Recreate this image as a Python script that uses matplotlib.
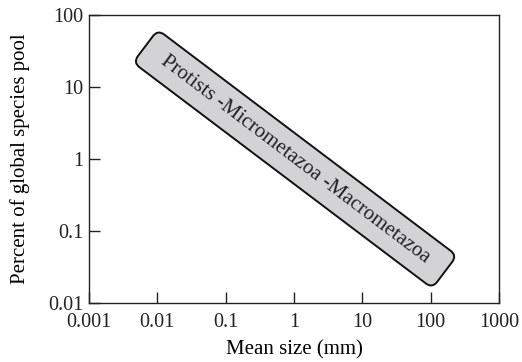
import matplotlib.pyplot as plt
from matplotlib.patches import FancyBboxPatch
from matplotlib.transforms import Affine2D, IdentityTransform
import numpy as np

# axis ticks
xTicks = [0.001, 0.01, 0.1, 1, 10, 100, 1000]
xLabels = ["0.001", "0.01", "0.1", "1", "10", "100", "1000"]
yTicks = [0.01, 0.1, 1, 10, 100]
yLabels = ["0.01", "0.1", "1", "10", "100"]

# band end points (mean size mm, percent of pool)
bandStart = (0.0067, 37)
bandEnd = (160, 0.027)
bandText = "Protists -Micrometazoa -Macrometazoa"

plt.rcParams['font.family'] = ['Liberation Serif', 'DejaVu Serif']

fig = plt.figure(figsize=(5.22, 3.62), dpi=100)
ax = fig.add_axes([0.1705, 0.163, 0.7855, 0.7956])
ax.set_xscale('log')
ax.set_yscale('log')
ax.set_xlim(0.001, 1000)
ax.set_ylim(0.01, 100)

#ticks
ax.set_xticks(xTicks)
ax.set_xticklabels(xLabels)
ax.set_yticks(yTicks)
ax.set_yticklabels(yLabels)
ax.minorticks_off()
ax.tick_params(direction='in', length=8, width=1, labelsize=14.5,
               colors='#222222', top=False, right=False)
ax.tick_params(axis='x', pad=7)
ax.tick_params(axis='y', pad=4)
for s in ax.spines.values():
    s.set_linewidth(1)
    s.set_color('#222222')

# band drawn in screen pixels between the two data points
fig.canvas.draw()
p0 = ax.transData.transform(bandStart)
p1 = ax.transData.transform(bandEnd)
angle = np.degrees(np.arctan2(p1[1] - p0[1], p1[0] - p0[0]))
length = np.hypot(p1[0] - p0[0], p1[1] - p0[1])
width = 41
mid = (p0 + p1) / 2

box = FancyBboxPatch((-length / 2, -width / 2), length, width,
                     boxstyle='round,pad=0,rounding_size=8',
                     fc='#d3d3d5', ec='#111111', lw=1.4, zorder=3, clip_on=False,
                     transform=Affine2D().rotate_deg(angle).translate(mid[0], mid[1]))
ax.add_patch(box)

ax.text(mid[0], mid[1], bandText, transform=IdentityTransform(), rotation=angle,
        rotation_mode='anchor', ha='center', va='center', fontsize=15,
        color='#222222', zorder=4)

ax.set_xlabel('Mean size (mm)', fontsize=15, labelpad=6)
ax.set_ylabel('Percent of global species pool', fontsize=15, labelpad=13)

fig.savefig('out.png', dpi=100)
